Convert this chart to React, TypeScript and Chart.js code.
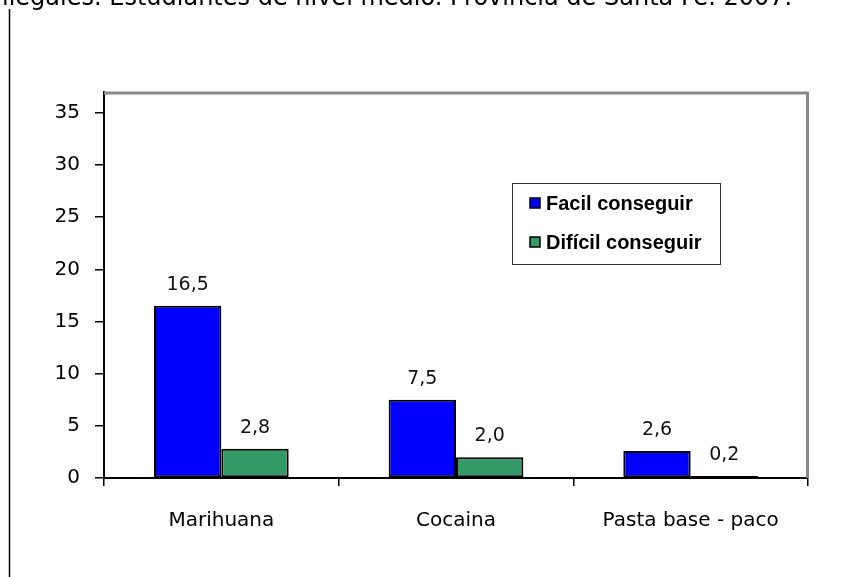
import React, { useEffect, useRef } from "react";
import { Chart, registerables } from "chart.js";

Chart.register(...registerables);

const titleText = "ilegales. Estudiantes de nivel medio. Provincia de Santa Fe. 2007.";
const categories = ["Marihuana", "Cocaina", "Pasta base - paco"];
const seriesLabels = ["Facil conseguir", "Difícil conseguir"];
const facilValues = [16.5, 7.5, 2.6];
const dificilValues = [2.8, 2.0, 0.2];
const yTicks = [0, 5, 10, 15, 20, 25, 30, 35];
const yMax = 37;

const BLUE = "#0000FF";
const GREEN = "#339966";
const TICK_FONT = "DejaVu Sans";

const decorPlugin = {
  id: "decor",
  beforeDatasetsDraw(chart: any) {
    const { ctx, chartArea } = chart;
    ctx.save();
    ctx.strokeStyle = "#8a8a8a";
    ctx.lineWidth = 3;
    ctx.beginPath();
    ctx.moveTo(chartArea.left, chartArea.top + 1);
    ctx.lineTo(chartArea.right - 0.5, chartArea.top + 1);
    ctx.lineTo(chartArea.right - 0.5, chartArea.bottom);
    ctx.stroke();
    ctx.restore();
  },
  afterDraw(chart: any) {
    const { ctx } = chart;
    ctx.save();
    // title (partially cut at top)
    ctx.fillStyle = "#000";
    ctx.font = "24px 'DejaVu Sans'";
    ctx.textBaseline = "alphabetic";
    ctx.textAlign = "left";
    ctx.fillText(titleText, 2, 5);
    // left vertical rule
    ctx.strokeStyle = "#000";
    ctx.lineWidth = 1.5;
    ctx.beginPath();
    ctx.moveTo(9.5, 9);
    ctx.lineTo(9.5, chart.height);
    ctx.stroke();

    // data labels
    ctx.font = "19px 'DejaVu Sans'";
    ctx.fillStyle = "#111";
    ctx.textAlign = "center";
    ctx.textBaseline = "alphabetic";
    chart.data.datasets.forEach((ds: any, di: number) => {
      const meta = chart.getDatasetMeta(di);
      meta.data.forEach((bar: any, i: number) => {
        const v = ds.data[i] as number;
        const txt = v.toFixed(1).replace(".", ",");
        ctx.fillText(txt, bar.x, bar.y - 16);
      });
    });

    // legend
    const lx = 512, ly = 183, lw = 208, lh = 81;
    ctx.fillStyle = "#fff";
    ctx.fillRect(lx, ly, lw, lh);
    ctx.strokeStyle = "#333";
    ctx.lineWidth = 1;
    ctx.strokeRect(lx + 0.5, ly + 0.5, lw, lh);
    const rows = [203, 242];
    ctx.font = "bold 20px 'Liberation Sans'";
    ctx.textAlign = "left";
    ctx.textBaseline = "middle";
    chart.data.datasets.forEach((ds: any, di: number) => {
      const cy = rows[di];
      ctx.fillStyle = ds.backgroundColor;
      ctx.fillRect(530, cy - 5, 10, 10);
      ctx.strokeStyle = "#000";
      ctx.lineWidth = 1.5;
      ctx.strokeRect(530, cy - 5, 10, 10);
      ctx.fillStyle = "#000";
      ctx.fillText(ds.label, 546, cy + 1);
    });
    ctx.restore();
  },
};

export default function App() {
  const ref = useRef<HTMLCanvasElement | null>(null);
  useEffect(() => {
    if (!ref.current) return;
    const chart = new Chart(ref.current, {
      type: "bar",
      data: {
        labels: categories,
        datasets: [
          {
            label: seriesLabels[0],
            data: facilValues,
            backgroundColor: BLUE,
            borderColor: "#000",
            borderWidth: 2,
            borderSkipped: false,
          },
          {
            label: seriesLabels[1],
            data: dificilValues,
            backgroundColor: GREEN,
            borderColor: "#000",
            borderWidth: 2,
            borderSkipped: false,
          },
        ],
      },
      options: {
        responsive: false,
        animation: false,
        devicePixelRatio: 1,
        layout: { padding: { top: 92, right: 38, bottom: 0, left: 0 } },
        datasets: { bar: { categoryPercentage: 0.574, barPercentage: 1 } },
        plugins: {
          legend: { display: false },
          title: { display: false },
          tooltip: { enabled: false },
        },
        scales: {
          x: {
            afterFit: (s: any) => {
              s.height = 99;
            },
            grid: {
              offset: true,
              drawOnChartArea: false,
              drawTicks: true,
              tickLength: 8,
              color: "#000",
              lineWidth: 1.5,
            },
            border: { display: true, color: "#000", width: 2 },
            ticks: {
              color: "#000",
              font: { family: TICK_FONT, size: 20 },
              padding: 23,
              maxRotation: 0,
            },
          },
          y: {
            min: 0,
            max: yMax,
            afterFit: (s: any) => {
              s.width = 104;
            },
            afterBuildTicks: (axis: any) => {
              axis.ticks = yTicks.map((v) => ({ value: v }));
            },
            grid: {
              drawOnChartArea: false,
              drawTicks: true,
              tickLength: 9,
              color: "#000",
              lineWidth: 1.5,
            },
            border: { display: true, color: "#000", width: 2 },
            ticks: {
              color: "#000",
              font: { family: TICK_FONT, size: 20 },
              padding: 15,
            },
          },
        },
      },
      plugins: [decorPlugin],
    });
    return () => chart.destroy();
  }, []);
  return (
    <div style={{ position: "absolute", left: 0, top: 0, width: 846, height: 577, background: "#fff" }}>
      <canvas ref={ref} width={846} height={577} style={{ width: 846, height: 577, display: "block" }} />
    </div>
  );
}
